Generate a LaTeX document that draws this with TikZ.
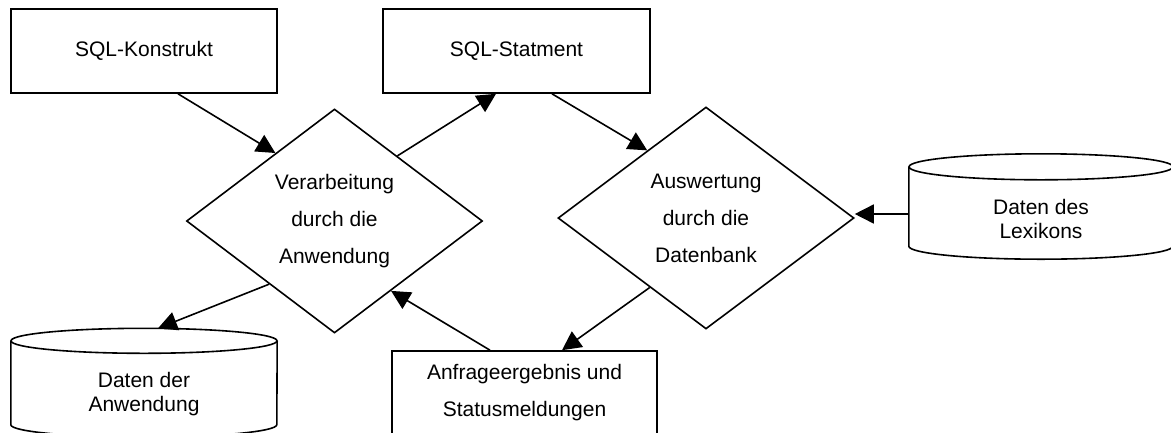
\documentclass[tikz,border=0pt]{standalone}
\usepackage{fontspec}
\setmainfont{Liberation Sans}
\usetikzlibrary{shapes.geometric,arrows.meta,calc}

\begin{document}
\begin{tikzpicture}[x=1pt,y=1pt,
  every node/.style={font=\fontsize{21}{37}\selectfont, align=center},
  stmtbox/.style={draw, line width=1.6pt, rectangle, minimum width=266pt,
                  minimum height=84pt, inner sep=0pt},
  decision/.style={draw, line width=1.6pt, diamond, minimum width=296pt,
                   minimum height=224pt, inner sep=0pt},
  dbtext/.style={font=\fontsize{21}{24}\selectfont, inner sep=0pt},
  dbbody/.style={inner sep=0pt, minimum width=#1},
  flow/.style={line width=1.6pt, -{Triangle[length=19pt,width=19pt]}},
  outline/.style={line width=1.6pt}
]
\useasboundingbox (0,0) rectangle (1171,-432);
\fill[white] (0,0) rectangle (1171,-432);
\clip (0,0) rectangle (1171,-432);

% process boxes and decisions
\node[stmtbox] (konstrukt) at (144,-51) {SQL-Konstrukt};
\node[stmtbox, minimum width=267pt] (statment) at (516.5,-51) {SQL-Statment};
\node[decision] (verarb) at (334.5,-221) {Verarbeitung\\durch die\\Anwendung};
\node[decision, minimum height=222pt] (auswert) at (706,-218) {Auswertung\\durch die\\Datenbank};
\node[stmtbox, minimum width=265pt] (ergebnis) at (524.5,-393) {Anfrageergebnis und\\Statusmeldungen};

% data store: Lexikon
\node[dbbody=264pt, minimum height=105pt] (lexikon) at (1041,-206.5) {};
\draw[outline] ([yshift=-13pt]lexikon.north west)
  -- ([yshift=13pt]lexikon.south west)
  arc[start angle=180, end angle=360, x radius=132, y radius=13]
  -- ([yshift=-13pt]lexikon.north east);
\draw[outline] ([yshift=-13pt]lexikon.north) ellipse[x radius=132, y radius=13];
\node[dbtext] (lexikontext) at (1041,-219) {Daten des\\Lexikons};

% data store: Anwendung
\node[dbbody=266pt, minimum height=108.5pt] (anwendung) at (144,-382.75) {};
\draw[outline] ([yshift=-12.5pt]anwendung.north west)
  -- ([yshift=12.5pt]anwendung.south west)
  arc[start angle=180, end angle=360, x radius=133, y radius=12.5]
  -- ([yshift=-12.5pt]anwendung.north east);
\draw[outline] ([yshift=-12.5pt]anwendung.north) ellipse[x radius=133, y radius=12.5];
\node[dbtext] (anwendungtext) at (144,-394.5) {Daten der\\Anwendung};

% connectors
\coordinate (dbtip) at ([yshift=4pt]auswert.east);
\draw[flow] ([xshift=34pt]konstrukt.south) -- (verarb.131);
\draw[flow] (verarb.46.5) -- ([xshift=-20.5pt]statment.south);
\draw[flow] ([xshift=35.5pt]statment.south) -- (auswert.131.4);
\draw[flow] (lexikon.west |- dbtip) -- (dbtip);
\draw[flow] (auswert.231.3) -- ([xshift=37.5pt]ergebnis.north);
\draw[flow] ([xshift=-34.5pt]ergebnis.north) -- (verarb.309.4);
\draw[flow] (verarb.224.8) -- ([xshift=14pt]anwendung.north);
\end{tikzpicture}
\end{document}
